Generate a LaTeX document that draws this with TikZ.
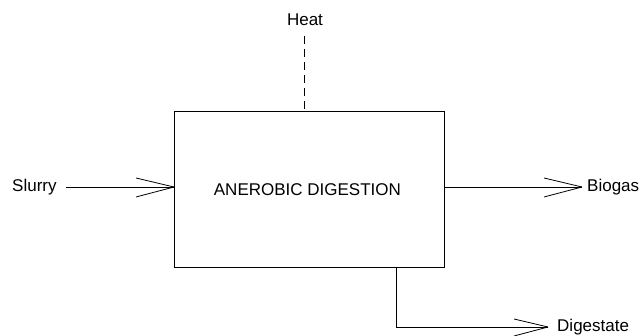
\documentclass[tikz,border=0pt]{standalone}
\usepackage{fontspec}
\setmainfont{Liberation Sans}
\begin{document}
\begin{tikzpicture}[x=1pt,y=-1pt,
  lbl/.style={font=\fontsize{17}{20}\selectfont, inner sep=0pt},
  ln/.style={line width=0.8pt, black}]
\useasboundingbox (0,0) rectangle (644,336);
\node[draw, line width=0.8pt, minimum width=270pt, minimum height=156pt, anchor=north west, inner sep=0pt] (box) at (174,111) {};
\node[lbl] at ([xshift=-2pt]box.center) {ANEROBIC DIGESTION};
\node[lbl, anchor=west] (slurry) at (12,187) {Slurry};
\node[lbl] (heat) at (305,20) {Heat};
\node[lbl, anchor=west] (biogas) at (587,187) {Biogas};
\node[lbl, anchor=west] (dig) at (557,327) {Digestate};
\coordinate (sin) at (box.west |- slurry);
\coordinate (bout) at (582,187);
\coordinate (dcorner) at (396,327);
\coordinate (dtop) at (396,267);
\coordinate (dend) at (548,327);
% slurry
\draw[ln] (66,187) -- (sin);
\draw[ln] (sin) -- ++(-38,-9);
\draw[ln] (sin) -- ++(-38,10);
% biogas
\draw[ln] (box.east |- bout) -- (bout);
\draw[ln] (bout) -- ++(-38,-9);
\draw[ln] (bout) -- ++(-38,10);
% digestate
\draw[ln] (dtop) -- (dcorner) -- (dend);
\draw[ln] (dend) -- ++(-34,-8);
\draw[ln] (dend) -- ++(-34,9);
% heat
\draw[ln, dash pattern=on 8pt off 5pt] (304,36) -- (box.north -| 304,0);
\end{tikzpicture}
\end{document}
